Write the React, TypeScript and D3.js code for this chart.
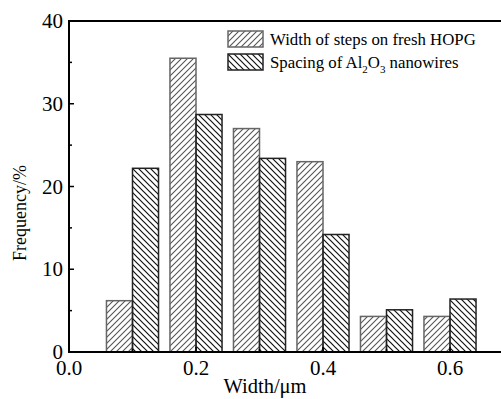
import * as d3 from 'd3';

// bin centres (µm) and frequencies (%)
const bins = [0.1, 0.2, 0.3, 0.4, 0.5, 0.6];
const stepWidths = [6.2, 35.5, 27.0, 23.0, 4.3, 4.3];
const wireSpacing = [22.2, 28.7, 23.4, 14.2, 5.1, 6.4];
const xTicks = [0.0, 0.2, 0.4, 0.6];
const yTicks = [0, 10, 20, 30, 40];

const W = 501;
const H = 399;
const margin = { top: 21, left: 69, bottom: 47 };
const font = '"Liberation Serif", "Times New Roman", serif';

const x = d3.scaleLinear().domain([0, 0.7]).range([margin.left, margin.left + 0.7 * 635]);
const y = d3.scaleLinear().domain([0, 40]).range([H - margin.bottom, margin.top]);
const barW = 0.041;

const App = () => {
    const minorY = d3.range(5, 40, 10);
    const minorX = d3.range(0.1, 0.7, 0.2);
    return (
        <div style={{ position: 'absolute', left: 0, top: 0 }}>
            <svg width={W} height={H} style={{ display: 'block', background: '#fff' }}>
                <defs>
                    <pattern id="fwd" patternUnits="userSpaceOnUse" width={6} height={6}>
                        <path d="M-1,7 L7,-1 M-4,4 L4,-4 M2,10 L10,2" stroke="#555" strokeWidth={1.1} />
                    </pattern>
                    <pattern id="back" patternUnits="userSpaceOnUse" width={6} height={6}>
                        <path d="M-1,-1 L7,7 M-4,2 L2,8 M2,-4 L8,2" stroke="#111" strokeWidth={1.2} />
                    </pattern>
                </defs>

                {/* bars */}
                {bins.map((b, i) => (
                    <g key={b}>
                        <rect
                            x={x(b - barW)}
                            y={y(stepWidths[i])}
                            width={x(b) - x(b - barW)}
                            height={y(0) - y(stepWidths[i])}
                            fill="url(#fwd)"
                            stroke="#666"
                            strokeWidth={1.5}
                        />
                        <rect
                            x={x(b)}
                            y={y(wireSpacing[i])}
                            width={x(b + barW) - x(b)}
                            height={y(0) - y(wireSpacing[i])}
                            fill="url(#back)"
                            stroke="#222"
                            strokeWidth={1.5}
                        />
                    </g>
                ))}

                {/* frame */}
                <line x1={x(0)} x2={W} y1={y(0)} y2={y(0)} stroke="#000" strokeWidth={2} />
                <line x1={x(0)} x2={W} y1={y(40)} y2={y(40)} stroke="#000" strokeWidth={2} />
                <line x1={x(0)} x2={x(0)} y1={y(0) + 1} y2={y(40) - 1} stroke="#000" strokeWidth={2} />

                {/* y ticks */}
                {yTicks.map(t => (
                    <g key={t}>
                        <line x1={x(0)} x2={x(0) + 5} y1={y(t)} y2={y(t)} stroke="#000" strokeWidth={1.5} />
                        <text x={63} y={y(t) + 7} textAnchor="end" fontFamily={font} fontSize={21}>
                            {t}
                        </text>
                    </g>
                ))}
                {minorY.map(t => (
                    <line key={t} x1={x(0)} x2={x(0) + 3} y1={y(t)} y2={y(t)} stroke="#000" strokeWidth={1.5} />
                ))}

                {/* x ticks */}
                {xTicks.map(t => (
                    <g key={t}>
                        <line x1={x(t)} x2={x(t)} y1={y(0)} y2={y(0) - 5} stroke="#000" strokeWidth={1.5} />
                        <text x={x(t)} y={375} textAnchor="middle" fontFamily={font} fontSize={21}>
                            {d3.format('.1f')(t)}
                        </text>
                    </g>
                ))}
                {minorX.map(t => (
                    <line key={t} x1={x(t)} x2={x(t)} y1={y(0)} y2={y(0) - 3} stroke="#000" strokeWidth={1.5} />
                ))}

                {/* axis titles */}
                <text x={265} y={393} textAnchor="middle" fontFamily={font} fontSize={20.5}>
                    Width/μm
                </text>
                <text
                    transform={`translate(26,213) rotate(-90)`}
                    textAnchor="middle"
                    fontFamily={font}
                    fontSize={18}
                >
                    Frequency/%
                </text>

                {/* legend */}
                <rect x={228} y={31} width={35} height={16} fill="url(#fwd)" stroke="#666" strokeWidth={1.5} />
                <rect x={228} y={54} width={35} height={16} fill="url(#back)" stroke="#222" strokeWidth={1.5} />
                <text x={270} y={45} fontFamily={font} fontSize={16.8}>
                    Width of steps on fresh HOPG
                </text>
                <text x={270} y={68} fontFamily={font} fontSize={16.8}>
                    Spacing of Al
                    <tspan fontSize={11} dy={5}>2</tspan>
                    <tspan dy={-5}>O</tspan>
                    <tspan fontSize={11} dy={5}>3</tspan>
                    <tspan dy={-5}> nanowires</tspan>
                </text>
            </svg>
        </div>
    );
};

export default App;
